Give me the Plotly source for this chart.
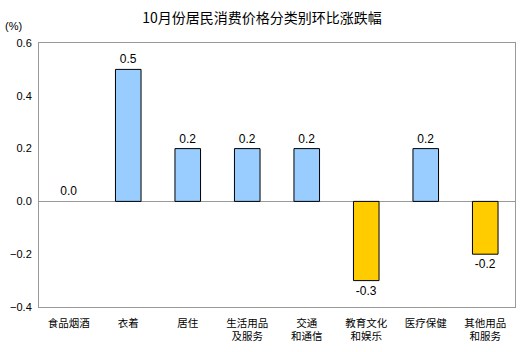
import plotly.graph_objects as go

categories = ["食品烟酒", "衣着", "居住", "生活用品<br>及服务", "交通<br>和通信", "教育文化<br>和娱乐", "医疗保健", "其他用品<br>和服务"]
values = [0.0, 0.5, 0.2, 0.2, 0.2, -0.3, 0.2, -0.2]
labels = ["0.0", "0.5", "0.2", "0.2", "0.2", "-0.3", "0.2", "-0.2"]
tick_vals = [-0.4, -0.2, 0.0, 0.2, 0.4, 0.6]

colors = ["#99CCFF" if v >= 0 else "#FFCC00" for v in values]
line_widths = [0 if v == 0 else 1 for v in values]

fig = go.Figure()
fig.add_trace(go.Bar(
    x=categories, y=values, text=labels, textposition="outside",
    textfont=dict(size=12, color="#000000", family="Liberation Sans, Arial, sans-serif"),
    marker=dict(color=colors, line=dict(color="#000000", width=line_widths)),
    width=0.43, cliponaxis=False,
))
fig.update_layout(
    width=524, height=352,
    margin=dict(l=39, r=9, t=43, b=45),
    paper_bgcolor="white", plot_bgcolor="white",
    font=dict(family="Noto Sans CJK SC, sans-serif", size=11, color="#000000"),
    title=dict(text="10月份居民消费价格分类别环比涨跌幅", x=0.5, xanchor="center", y=0.95, yanchor="middle",
               font=dict(size=14, color="#000000")),
    showlegend=False,
)
fig.update_xaxes(showgrid=False, showline=True, mirror=True, linecolor="#999999", linewidth=1,
                 ticks="", tickfont=dict(size=10.5), tickangle=0, ticklabelstandoff=6, automargin=False)
fig.update_yaxes(range=[-0.4, 0.6], tickvals=tick_vals, tickformat=".1f", showgrid=False,
                 showline=True, mirror=True, linecolor="#999999", linewidth=1,
                 zeroline=True, zerolinecolor="#999999", zerolinewidth=1,
                 ticks="", ticklabelstandoff=4, automargin=False,
                 tickfont=dict(size=11, family="Liberation Sans, Arial, sans-serif"))
fig.add_annotation(text="(%)", xref="paper", yref="paper", x=-0.075, y=1.065, showarrow=False,
                   xanchor="left", yanchor="middle",
                   font=dict(size=11, family="Liberation Sans, Arial, sans-serif"))
fig.write_html("out.html")
